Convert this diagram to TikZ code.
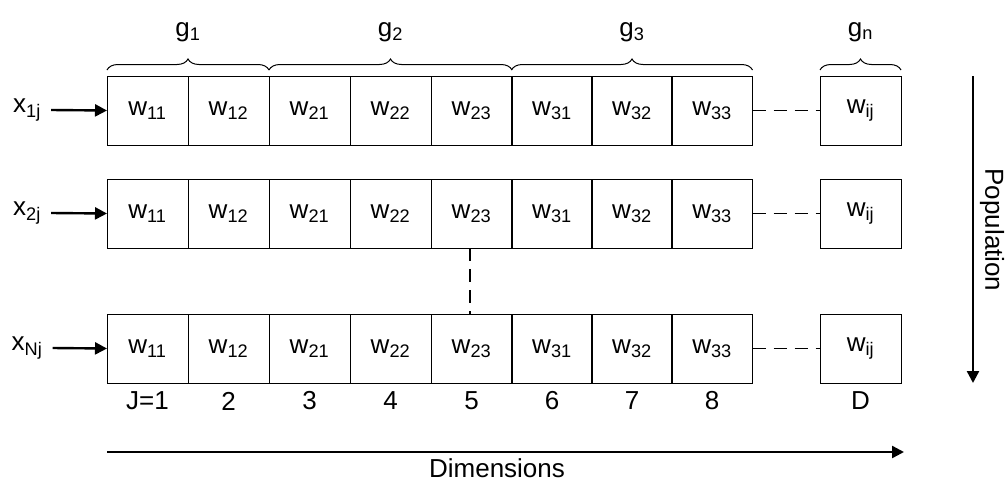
\documentclass[tikz,border=0pt]{standalone}
\usepackage{fontspec}
\setmainfont{Liberation Sans}
\usetikzlibrary{decorations.pathreplacing,arrows.meta}
\begin{document}
\begin{tikzpicture}[x=1pt, y=-1pt,
            cell/.style={draw, line width=1pt, minimum width=81pt, minimum height=69pt,
                    inner sep=0pt, outer sep=0pt, font=\fontsize{26}{28}\selectfont},
            lbl/.style={font=\fontsize{26}{28}\selectfont, inner sep=1pt},
            arrow/.style={-{Triangle[length=12pt,width=12pt]}, line width=2.4pt},
            dots/.style={dash pattern=on 13pt off 8pt, line width=1.6pt},
            brace/.style={decorate, decoration={brace, amplitude=11pt}, line width=1pt}
        ]
        \useasboundingbox (0,0) rectangle (1006,482);

        % three rows of the population
        \foreach \r/\y in {1/110.5, 2/213.5, 3/348.5} {
            \node[cell] (c\r1) at (147.5,\y) {w\textsubscript{11}};
            \node[cell] (c\r2) at (228.5,\y) {w\textsubscript{12}};
            \node[cell] (c\r3) at (309.5,\y) {w\textsubscript{21}};
            \node[cell] (c\r4) at (390.5,\y) {w\textsubscript{22}};
            \node[cell] (c\r5) at (471.5,\y) {w\textsubscript{23}};
            \node[cell] (c\r6) at (552,\y) {w\textsubscript{31}};
            \node[cell] (c\r7) at (632,\y) {w\textsubscript{32}};
            \node[cell] (c\r8) at (712,\y) {w\textsubscript{33}};
            \node[cell] (c\r9) at (860.5,\y) {w\textsubscript{ij}};
            \draw[dots] (c\r8.east) -- (c\r9.west);
        }

        \node[lbl] (x1) at (27,110) {x\textsubscript{1j}};
        \node[lbl] (x2) at (27,213) {x\textsubscript{2j}};
        \node[lbl] (x3) at (27,348) {x\textsubscript{Nj}};
        \draw[arrow] (x1.east) ++(9,0) -- (c11.west);
        \draw[arrow] (x2.east) ++(9,0) -- (c21.west);
        \draw[arrow] (x3.east) ++(9,0) -- (c31.west);

        \draw[dots] ([xshift=-1.5pt]c25.south) -- ([xshift=-1.5pt]c35.north);

        % groups
        \draw[brace] ([yshift=6pt]c11.north west) -- node[lbl, above=27pt] (g1) {g\textsubscript{1}} ([yshift=6pt]c12.north east);
        \draw[brace] ([yshift=6pt]c13.north west) -- node[lbl, above=27pt] (g2) {g\textsubscript{2}} ([yshift=6pt]c15.north east);
        \draw[brace] ([yshift=6pt]c16.north west) -- node[lbl, above=27pt] (g3) {g\textsubscript{3}} ([yshift=6pt]c18.north east);
        \draw[brace] ([yshift=6pt]c19.north west) -- node[lbl, above=27pt] (gn) {g\textsubscript{n}} ([yshift=6pt]c19.north east);

        % dimension index
        \node[lbl] (d1) at (147.5,401) {J=1};
        \node[lbl] (d2) at (228.5,401) {2};
        \node[lbl] (d3) at (309.5,401) {3};
        \node[lbl] (d4) at (390.5,401) {4};
        \node[lbl] (d5) at (471.5,401) {5};
        \node[lbl] (d6) at (552,401) {6};
        \node[lbl] (d7) at (632,401) {7};
        \node[lbl] (d8) at (712,401) {8};
        \node[lbl] (dD) at (860.5,401) {D};

        \coordinate (dimL) at (107,452);
        \coordinate (dimR) at (904,452);
        \draw[arrow] (dimL) -- (dimR);
        \node[lbl] (dim) at (497,468) {Dimensions};

        \coordinate (popT) at (973,76);
        \coordinate (popB) at (973,383);
        \draw[arrow] (popT) -- (popB);
        \node[lbl, rotate=-90] (pop) at (992,230) {Population};
    \end{tikzpicture}
\end{document}
